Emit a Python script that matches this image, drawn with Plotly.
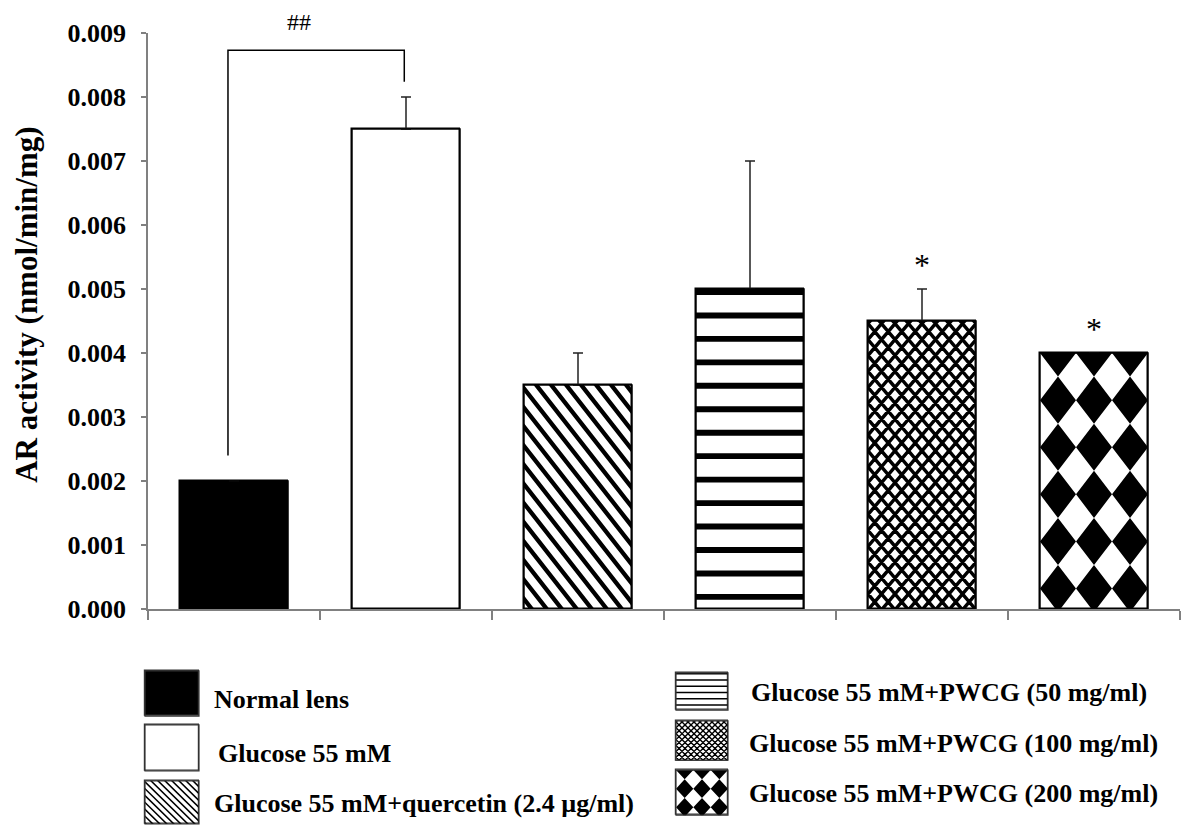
import plotly.graph_objects as go

# ---- data -------------------------------------------------------------
groups = [
    "Normal lens",
    "Glucose 55 mM",
    "Glucose 55 mM+quercetin (2.4 µg/ml)",
    "Glucose 55 mM+PWCG (50 mg/ml)",
    "Glucose 55 mM+PWCG (100 mg/ml)",
    "Glucose 55 mM+PWCG (200 mg/ml)",
]
activity = [0.0020, 0.0075, 0.0035, 0.0050, 0.0045, 0.0040]   # nmol/min/mg
sem = [None, 0.0005, 0.0005, 0.0020, 0.0005, None]
y_ticks = [0.000, 0.001, 0.002, 0.003, 0.004, 0.005, 0.006, 0.007, 0.008, 0.009]
star_labels = ["", "", "", "", "*", "*"]
bracket_groups = [0, 1]
bracket_label = "##"

# ---- styling ----------------------------------------------------------
W, H = 1184, 840
FONT = "Liberation Serif"
AX_GREY = "#808080"
BAR_W = 0.628
Y_MAX = 0.009
PX_PER_X = 1032 / 6          # plot width / number of groups
PX_PER_Y = 587 / Y_MAX       # plot height / y range
fills = ["black", "white", "white", "white", "white", "white"]
# fill style per group: (kind, spacing px, thickness px, slope)
bar_fill_style = [None, None, ("diag", 15, 5.5, 1.3), ("horiz", 23.9, 6, 0),
                  ("cross", 13.5, 4.5, 1.2), ("harlequin", 3, 48, 0)]

# legend patches, laid out in page pixels on a hidden axis pair
leg_x0 = [145, 145, 145, 676, 676, 676]
leg_x1 = [199, 199, 199, 728, 728, 728]
leg_y0 = [683, 738, 795, 685, 734, 784]
leg_y1 = [729, 785, 839, 723, 774, 830]
leg_text_x = [212, 216, 212, 749, 747, 747]
leg_text_y = [712, 767, 818, 705, 757, 808]
leg_fill_style = [None, None, ("diag", 7, 2.2, 1.0), ("horiz", 6.4, 1.6, 0),
                  ("cross", 6, 2.0, 1.0), ("harlequin", 3, 19, 0)]


def clip_rect(pts, x0, x1, y0, y1):
    """Sutherland-Hodgman clip of a convex polygon to an axis-aligned box."""
    lo_x, hi_x = min(x0, x1), max(x0, x1)
    lo_y, hi_y = min(y0, y1), max(y0, y1)

    def cut(poly, inside, meet):
        out = []
        for k in range(len(poly)):
            cur, prev = poly[k], poly[k - 1]
            if inside(cur):
                if not inside(prev):
                    out.append(meet(prev, cur))
                out.append(cur)
            elif inside(prev):
                out.append(meet(prev, cur))
        return out

    def at_x(xv):
        return lambda p, q: (xv, p[1] + (xv - p[0]) / (q[0] - p[0]) * (q[1] - p[1]))

    def at_y(yv):
        return lambda p, q: (p[0] + (yv - p[1]) / (q[1] - p[1]) * (q[0] - p[0]), yv)

    edges = [
        (lambda p: p[0] >= lo_x, at_x(lo_x)),
        (lambda p: p[0] <= hi_x, at_x(hi_x)),
        (lambda p: p[1] >= lo_y, at_y(lo_y)),
        (lambda p: p[1] <= hi_y, at_y(hi_y)),
    ]
    for inside, meet in edges:
        pts = cut(pts, inside, meet)
        if not pts:
            break
    return pts


def fill_polygons(u0, u1, v0, v1, style):
    """Black polygons (screen pixels, v downward) filling box u0..u1 x v0..v1."""
    kind, a, b, s = style
    wid, hgt = u1 - u0, v1 - v0
    polys = []
    if kind == "horiz":
        k = 0
        while v0 + k * a < v1:
            top = v0 + k * a
            polys.append([(u0, top), (u1, top), (u1, top + b), (u0, top + b)])
            k += 1
    elif kind in ("diag", "cross"):
        fams = [1] if kind == "diag" else [1, -1]
        sv, tv = a * s, b * s                      # vertical spacing / thickness
        for sign in fams:
            ua, ub = u0 - 2, u1 + 2
            k = -int((s * wid) / sv) - 2
            while k * sv < hgt + s * wid + sv:
                c = v0 + k * sv
                base = (lambda u: c + s * (u - u0)) if sign > 0 else \
                       (lambda u: c - s * (u - u0))
                polys.append([(ua, base(ua)), (ub, base(ub)),
                              (ub, base(ub) + tv), (ua, base(ua) + tv)])
                k += 1
    elif kind == "harlequin":
        ncols, row_h = int(a), b
        col_w = wid / ncols
        j = 0
        while j * row_h < hgt + row_h:
            cy = v0 + j * row_h
            for i in range(ncols):
                cx = u0 + (i + 0.5) * col_w
                polys.append([(cx - col_w / 2, cy), (cx, cy + row_h / 2),
                              (cx + col_w / 2, cy), (cx, cy - row_h / 2)])
            j += 1
    out = []
    for p in polys:
        c = clip_rect(p, u0, u1, v0, v1)
        if len(c) >= 3:
            out.append(c + [c[0]])
    return out


def to_xy(polys, fx, fy):
    xs, ys = [], []
    for p in polys:
        xs += [fx(pt[0]) for pt in p] + [None]
        ys += [fy(pt[1]) for pt in p] + [None]
    return xs, ys


def rect_paths(x0s, x1s, y0s, y1s):
    xs, ys = [], []
    for a, b, c, d in zip(x0s, x1s, y0s, y1s):
        xs += [a, a, b, b, a, None]
        ys += [c, d, d, c, c, None]
    return xs, ys


xpos = list(range(len(groups)))
bx0 = [i - BAR_W / 2 for i in xpos]
bx1 = [i + BAR_W / 2 for i in xpos]
fig = go.Figure()

# ---- main bars --------------------------------------------------------
fig.add_trace(go.Bar(
    x=xpos, y=activity, width=BAR_W,
    marker=dict(color=fills, line=dict(color="black", width=1.5)),
    error_y=dict(type="data", symmetric=False, array=sem,
                 arrayminus=[0] * len(sem), color="#222222", thickness=1.5, width=5),
    showlegend=False, hoverinfo="skip",
))

# bar fill patterns, built in screen pixels then mapped back to data units
px_polys = []
for i, style in enumerate(bar_fill_style):
    if style is None:
        continue
    px_polys += fill_polygons(bx0[i] * PX_PER_X, bx1[i] * PX_PER_X,
                              -activity[i] * PX_PER_Y, 0.0, style)
mx, my = to_xy(px_polys, lambda u: u / PX_PER_X, lambda v: -v / PX_PER_Y)
fig.add_trace(go.Scatter(x=mx, y=my, mode="lines", fill="toself", fillcolor="black",
                         line=dict(width=0, color="black"), showlegend=False,
                         hoverinfo="skip"))
ox, oy = rect_paths(bx0, bx1, [0] * len(activity), activity)
fig.add_trace(go.Scatter(x=ox, y=oy, mode="lines", line=dict(color="black", width=1.5),
                         showlegend=False, hoverinfo="skip"))

# significance bracket between normal lens and glucose
ga, gb = bracket_groups
left_foot = activity[ga] + 0.0004
right_foot = activity[gb] + sem[gb] + 0.00024
bracket_top = 0.00873
fig.add_trace(go.Scatter(
    x=[ga - 0.035, ga - 0.035, gb - 0.01, gb - 0.01],
    y=[left_foot, bracket_top, bracket_top, right_foot],
    mode="lines", line=dict(color="black", width=1.5), showlegend=False, hoverinfo="skip"))

annotations = [
    dict(x=(ga + gb) / 2 - 0.12, y=(H - 22) / 807, xref="x", yref="paper",
         text=bracket_label, showarrow=False, yanchor="middle",
         font=dict(family=FONT, size=24, color="black")),
]
for i, lab in enumerate(star_labels):
    if lab:
        top = activity[i] + (sem[i] or 0)
        annotations.append(dict(x=i, y=top + 0.00038, xref="x", yref="y", text=lab,
                                showarrow=False, yanchor="middle",
                                font=dict(family=FONT, size=32, color="black")))

# y axis title
annotations.append(dict(x=27 / W, y=(H - 310) / 807, xref="paper", yref="paper",
                        text="AR activity (nmol/min/mg)", textangle=-90, showarrow=False,
                        xanchor="center", yanchor="middle",
                        font=dict(family=FONT, size=31, color="black", weight="bold")))

# ---- legend (patches on a pixel-scaled hidden axis) -------------------
fig.add_trace(go.Bar(
    x=[(a + b) / 2 for a, b in zip(leg_x0, leg_x1)],
    y=[b - a for a, b in zip(leg_y0, leg_y1)],
    base=leg_y0,
    width=[b - a for a, b in zip(leg_x0, leg_x1)],
    xaxis="x2", yaxis="y2",
    marker=dict(color=fills, line=dict(color="#333333", width=1.2)),
    showlegend=False, hoverinfo="skip",
))
lp = []
for i, style in enumerate(leg_fill_style):
    if style is None:
        continue
    lp += fill_polygons(leg_x0[i], leg_x1[i], leg_y0[i], leg_y1[i], style)
lx, ly = to_xy(lp, lambda u: u, lambda v: v)
fig.add_trace(go.Scatter(x=lx, y=ly, xaxis="x2", yaxis="y2", mode="lines", fill="toself",
                         fillcolor="black", line=dict(width=0, color="black"),
                         showlegend=False, hoverinfo="skip"))
lox, loy = rect_paths(leg_x0, leg_x1, leg_y0, leg_y1)
fig.add_trace(go.Scatter(x=lox, y=loy, xaxis="x2", yaxis="y2", mode="lines",
                         line=dict(color="#333333", width=1.2), showlegend=False,
                         hoverinfo="skip"))

for name, tx, ty in zip(groups, leg_text_x, leg_text_y):
    annotations.append(dict(x=tx, y=ty, xref="x2", yref="y2", text=name, showarrow=False,
                            xanchor="left", yanchor="middle",
                            font=dict(family=FONT, size=26, color="black", weight="bold")))

fig.update_layout(
    width=W, height=H,
    margin=dict(l=0, r=0, t=33, b=0),
    paper_bgcolor="white", plot_bgcolor="white",
    bargap=0,
    xaxis=dict(domain=[148 / W, 1180 / W], range=[-0.5, len(groups) - 0.5],
               tickvals=[i - 0.5 for i in range(len(groups) + 1)],
               showticklabels=False, ticks="outside", ticklen=9, tickwidth=1.5,
               tickcolor=AX_GREY, showline=True, linecolor=AX_GREY, linewidth=1.5,
               showgrid=False, zeroline=False, fixedrange=True),
    yaxis=dict(domain=[220 / 807, 1], range=[0, Y_MAX], tickvals=y_ticks,
               tickformat=".3f", ticks="outside", ticklen=5, tickwidth=1.5,
               tickcolor=AX_GREY, showline=True, linecolor=AX_GREY, linewidth=1.5,
               ticklabelstandoff=10,
               tickfont=dict(family=FONT, size=26, color="black", weight="bold"),
               showgrid=False, zeroline=False, fixedrange=True),
    xaxis2=dict(domain=[0, 1], range=[0, W], visible=False, anchor="y2", fixedrange=True),
    yaxis2=dict(domain=[0, 200 / 807], range=[840, 640], visible=False, anchor="x2",
                fixedrange=True),
    annotations=annotations,
    showlegend=False,
)

fig.write_html("out.html")
